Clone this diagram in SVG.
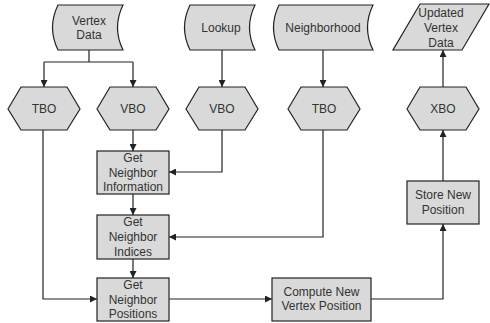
<svg xmlns="http://www.w3.org/2000/svg" width="490" height="323" viewBox="0 0 490 323">
<defs>
<marker id="ah" viewBox="0 0 10 10" refX="10" refY="5" markerWidth="7" markerHeight="7" orient="auto" markerUnits="userSpaceOnUse">
<path d="M0,0 L10,5 L0,10 Z" fill="#222"/>
</marker>
</defs>
<style>
.s{fill:#d9d9d9;stroke:#222;stroke-width:1.2}
.t{font-family:"Liberation Sans",Arial,sans-serif;font-size:12px;fill:#333;text-anchor:middle}
.c{fill:none;stroke:#222;stroke-width:1.2}
</style>
<rect width="490" height="323" fill="#fff"/>
<g id="vertexData">
<path class="s" d="M58,5 L123,5 Q112,27.5 123,50 L58,50 Q47,27.5 58,5 Z"/>
<text class="t" x="89" y="25">Vertex</text>
<text class="t" x="89" y="39">Data</text>
</g>
<g id="lookup">
<path class="s" d="M190,5 L255,5 Q244,27.5 255,50 L190,50 Q179,27.5 190,5 Z"/>
<text class="t" x="221" y="32">Lookup</text>
</g>
<g id="neighborhood">
<path class="s" d="M279,5 L373,5 Q362,27.5 373,50 L279,50 Q268,27.5 279,5 Z"/>
<text class="t" x="323" y="32">Neighborhood</text>
</g>
<g id="updated">
<path class="s" d="M420,4 L489,4 L462,50 L393,50 Z"/>
<text class="t" x="441" y="17">Updated</text>
<text class="t" x="441" y="32">Vertex</text>
<text class="t" x="441" y="47">Data</text>
</g>
<g id="tbo1">
<path class="s" d="M8,109 L21,87 L67,87 L80,109 L67,130 L21,130 Z"/>
<text class="t" x="44" y="113">TBO</text>
</g>
<g id="vbo1">
<path class="s" d="M97,109 L110,87 L156,87 L169,109 L156,130 L110,130 Z"/>
<text class="t" x="133" y="113">VBO</text>
</g>
<g id="vbo2">
<path class="s" d="M186,109 L199,87 L245,87 L258,109 L245,130 L199,130 Z"/>
<text class="t" x="222" y="113">VBO</text>
</g>
<g id="tbo2">
<path class="s" d="M288,109 L301,87 L347,87 L360,109 L347,130 L301,130 Z"/>
<text class="t" x="324" y="113">TBO</text>
</g>
<g id="xbo">
<path class="s" d="M407,109 L420,87 L466,87 L479,109 L466,130 L420,130 Z"/>
<text class="t" x="443" y="113">XBO</text>
</g>
<g id="getInfo">
<rect class="s" x="97" y="151" width="72" height="43"/>
<text class="t" x="133" y="162">Get</text>
<text class="t" x="133" y="177">Neighbor</text>
<text class="t" x="133" y="191">Information</text>
</g>
<g id="getIndices">
<rect class="s" x="97" y="215" width="72" height="44"/>
<text class="t" x="133" y="226">Get</text>
<text class="t" x="133" y="241">Neighbor</text>
<text class="t" x="133" y="256">Indices</text>
</g>
<g id="getPositions">
<rect class="s" x="97" y="278" width="72" height="43"/>
<text class="t" x="133" y="289">Get</text>
<text class="t" x="133" y="304">Neighbor</text>
<text class="t" x="133" y="318">Positions</text>
</g>
<g id="compute">
<rect class="s" x="272" y="278" width="99" height="43"/>
<text class="t" x="321.5" y="296">Compute New</text>
<text class="t" x="321.5" y="310">Vertex Position</text>
</g>
<g id="store">
<rect class="s" x="407" y="181" width="72" height="43"/>
<text class="t" x="443" y="199">Store New</text>
<text class="t" x="443" y="214">Position</text>
</g>
<g id="connectors">
<path class="c" d="M89,50 V62 M44,62 H133"/>
<path class="c" d="M44,62 V87" marker-end="url(#ah)"/>
<path class="c" d="M133,62 V87" marker-end="url(#ah)"/>
<path class="c" d="M222,50 V87" marker-end="url(#ah)"/>
<path class="c" d="M323,50 V87" marker-end="url(#ah)"/>
<path class="c" d="M443,87 V50" marker-end="url(#ah)"/>
<path class="c" d="M133,130 V151" marker-end="url(#ah)"/>
<path class="c" d="M222,130 V172 H169" marker-end="url(#ah)"/>
<path class="c" d="M133,194 V215" marker-end="url(#ah)"/>
<path class="c" d="M323,130 V237 H169" marker-end="url(#ah)"/>
<path class="c" d="M133,259 V278" marker-end="url(#ah)"/>
<path class="c" d="M43,130 V299 H97" marker-end="url(#ah)"/>
<path class="c" d="M169,299 H272" marker-end="url(#ah)"/>
<path class="c" d="M371,299 H443 V224" marker-end="url(#ah)"/>
<path class="c" d="M443,181 V130" marker-end="url(#ah)"/>
</g>
</svg>
